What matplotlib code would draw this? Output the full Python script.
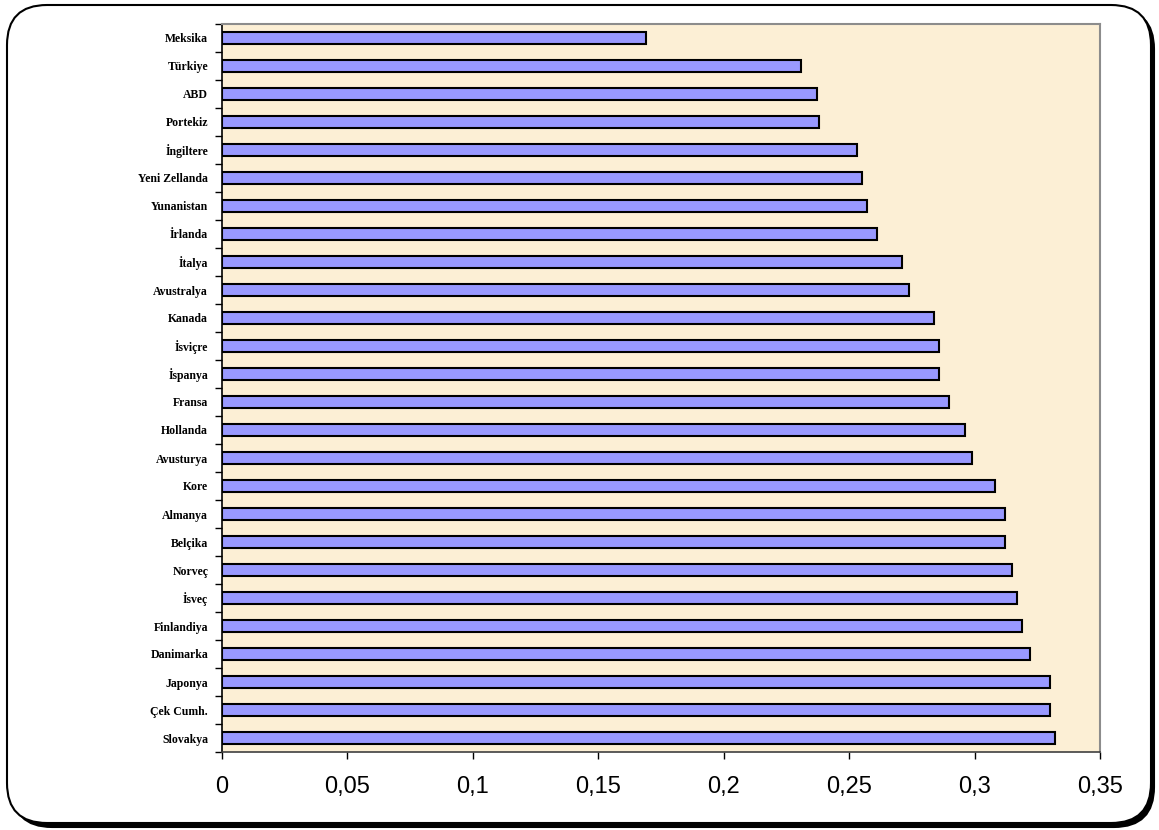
import matplotlib
matplotlib.use('Agg')
import matplotlib.pyplot as plt
import numpy as np
from matplotlib.patches import FancyBboxPatch
from matplotlib.ticker import FuncFormatter, FixedLocator

# top to bottom as shown in the chart
countries = ['Meksika', 'Türkiye', 'ABD', 'Portekiz', 'İngiltere', 'Yeni Zellanda',
             'Yunanistan', 'İrlanda', 'İtalya', 'Avustralya', 'Kanada', 'İsviçre',
             'İspanya', 'Fransa', 'Hollanda', 'Avusturya', 'Kore', 'Almanya',
             'Belçika', 'Norveç', 'İsveç', 'Finlandiya', 'Danimarka', 'Japonya',
             'Çek Cumh.', 'Slovakya']
values = [0.169, 0.231, 0.237, 0.238, 0.253, 0.255,
          0.257, 0.261, 0.271, 0.274, 0.284, 0.286,
          0.286, 0.290, 0.296, 0.299, 0.308, 0.312,
          0.312, 0.315, 0.317, 0.319, 0.322, 0.330,
          0.330, 0.332]
xticks = [0, 0.05, 0.1, 0.15, 0.2, 0.25, 0.3, 0.35]

fig = plt.figure(figsize=(11.59, 8.30), dpi=100, facecolor='white')

# outer rounded frame with shadow (in inches)
shadow = FancyBboxPatch((0.12, 0.03), 11.42, 8.18,
                        boxstyle='round,pad=0,rounding_size=0.4',
                        transform=fig.dpi_scale_trans, fc='black', ec='black',
                        lw=1.5, zorder=-2)
frame = FancyBboxPatch((0.07, 0.07), 11.44, 8.18,
                       boxstyle='round,pad=0,rounding_size=0.4',
                       transform=fig.dpi_scale_trans, fc='white', ec='black',
                       lw=1.5, zorder=-1)
fig.add_artist(shadow)
fig.add_artist(frame)

ax = fig.add_axes([222 / 1159, 1 - 752 / 830, (1100 - 222) / 1159, (752 - 24) / 830])
ax.set_facecolor('#fcefd5')

ypos = np.arange(len(countries))[::-1]
ax.barh(ypos, values, height=0.43, color='#9999ff', edgecolor='black', lw=1.5, zorder=3)

ax.set_xlim(0, 0.35)
ax.set_ylim(-0.5, len(countries) - 0.5)

ax.set_yticks(ypos)
ax.set_yticklabels(countries, fontfamily='Liberation Serif', fontweight='bold', fontsize=8.5)
ax.yaxis.set_minor_locator(FixedLocator(np.arange(-0.5, len(countries), 1.0)))
ax.tick_params(axis='y', which='major', length=0, pad=10)
ax.tick_params(axis='y', which='minor', length=5, width=1, direction='out', color='black')

ax.set_xticks(xticks)
ax.xaxis.set_major_formatter(FuncFormatter(lambda v, p: ('%g' % round(v, 2)).replace('.', ',')))
ax.tick_params(axis='x', length=5, width=1, direction='out', pad=12, labelsize=17)
for lbl in ax.get_xticklabels():
    lbl.set_fontfamily('Liberation Sans')

ax.spines['left'].set_color('black')
ax.spines['left'].set_linewidth(1.2)
ax.spines['bottom'].set_color('#404040')
ax.spines['bottom'].set_linewidth(1.2)
for s in ['top', 'right']:
    ax.spines[s].set_color('#8c8c8c')
    ax.spines[s].set_linewidth(1.5)

fig.savefig('out.png', dpi=100, facecolor='white')
